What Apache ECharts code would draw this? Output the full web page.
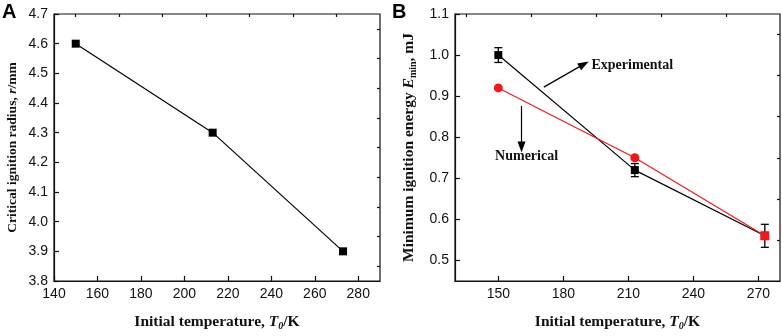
<!DOCTYPE html>
<html><head><meta charset="utf-8">
<script src="https://cdn.jsdelivr.net/npm/echarts@6/dist/echarts.min.js"></script>
<style>html,body{margin:0;padding:0;background:#fff}#c{width:782px;height:336px}</style>
</head><body><div id="c"></div>
<script>
// Panel A data
const tempA = [150, 213, 273];
const radiusA = [4.6, 4.3, 3.9];
// Panel B data
const tempB = [150, 213, 273];
const expEnergy = [1.0, 0.72, 0.56];
const expError = [0.018, 0.016, 0.028];
const numEnergy = [0.92, 0.75, 0.56];
// Ticks
const xTicksA = [140, 160, 180, 200, 220, 240, 260, 280];
const xMinorA = [150, 170, 190, 210, 230, 250, 270];
const yTicksA = [3.8, 3.9, 4.0, 4.1, 4.2, 4.3, 4.4, 4.5, 4.6, 4.7];
const yMinorA = [3.85, 3.95, 4.05, 4.15, 4.25, 4.35, 4.45, 4.55, 4.65];
const xTicksB = [150, 180, 210, 240, 270];
const xMinorB = [135, 165, 195, 225, 255];
const yTicksB = [0.5, 0.6, 0.7, 0.8, 0.9, 1.0, 1.1];
const yMinorB = [0.55, 0.65, 0.75, 0.85, 0.95, 1.05];
// Annotations (data coordinates of panel B)
const expArrow = [[171, 0.922], [189.5, 0.978]];
const numArrow = [[160.7, 0.876], [160.7, 0.776]];
const expLabelPos = [193, 0.976];
const numLabelPos = [148.5, 0.754];

const chart = echarts.init(document.getElementById('c'));
const tickFont = {fontFamily: 'Liberation Sans', fontSize: 14, color: '#111'};
function titleStyle(size) {
  return {fontFamily: 'Liberation Serif', fontWeight: 'bold', fontSize: size, color: '#111'};
}
function makeRich(size) {
  const s = Math.round(size * 0.62);
  const pad = Math.round(size * 0.55);
  return {
    i: {fontFamily: 'Liberation Serif', fontWeight: 'bold', fontStyle: 'italic', fontSize: size, color: '#111'},
    sub: {fontFamily: 'Liberation Serif', fontWeight: 'bold', fontStyle: 'italic', fontSize: s, color: '#111', verticalAlign: 'bottom', padding: [pad, 0, 0, 0]},
    subn: {fontFamily: 'Liberation Serif', fontWeight: 'bold', fontSize: s, color: '#111', verticalAlign: 'bottom', padding: [pad, 0, 0, 0]}
  };
}
const lineColor = '#111';

function majorAxis(opts) {
  return {
    type: 'value', gridIndex: opts.grid, min: opts.min, max: opts.max,
    axisLine: {show: true, onZero: false, lineStyle: {color: lineColor, width: 1.2}},
    axisTick: {show: true, inside: true, length: 5, customValues: opts.ticks, lineStyle: {color: lineColor, width: 1.2}},
    axisLabel: Object.assign({show: true, customValues: opts.ticks, margin: 6, formatter: opts.fmt}, tickFont),
    splitLine: {show: false},
    nameLocation: 'middle', nameGap: opts.nameGap, name: opts.name,
    nameTextStyle: Object.assign({rich: makeRich(opts.nameSize)}, titleStyle(opts.nameSize))
  };
}
function minorAxis(opts) {
  return {
    type: 'value', gridIndex: opts.grid, min: opts.min, max: opts.max,
    axisLine: {show: false, onZero: false},
    axisTick: {show: true, inside: true, length: 3, customValues: opts.ticks, lineStyle: {color: lineColor, width: 1.2}},
    axisLabel: {show: false},
    splitLine: {show: false}
  };
}
const f1 = v => v.toFixed(1);
const f0 = v => String(Math.round(v));

const errData = tempB.map((t, i) => [t, expEnergy[i], expError[i]]);

chart.setOption({
  animation: false,
  grid: [
    {left: 54, top: 14, width: 326, height: 268, show: true, borderColor: lineColor, borderWidth: 1.2, backgroundColor: 'transparent'},
    {left: 455, top: 14, width: 325, height: 268, show: true, borderColor: lineColor, borderWidth: 1.2, backgroundColor: 'transparent'}
  ],
  xAxis: [
    majorAxis({grid: 0, min: 140, max: 290, ticks: xTicksA, fmt: f0, nameGap: 31, nameSize: 15.5, name: 'Initial temperature, {i|T}{sub|0}/K'}),
    minorAxis({grid: 0, min: 140, max: 290, ticks: xMinorA}),
    majorAxis({grid: 1, min: 130, max: 280, ticks: xTicksB, fmt: f0, nameGap: 31, nameSize: 15.5, name: 'Initial temperature, {i|T}{sub|0}/K'}),
    minorAxis({grid: 1, min: 130, max: 280, ticks: xMinorB})
  ],
  yAxis: [
    majorAxis({grid: 0, min: 3.8, max: 4.7, ticks: yTicksA, fmt: f1, nameGap: 34, nameSize: 13.5, name: 'Critical ignition radius, {i|r}/mm'}),
    minorAxis({grid: 0, min: 3.8, max: 4.7, ticks: yMinorA}),
    majorAxis({grid: 1, min: 0.45, max: 1.1, ticks: yTicksB, fmt: f1, nameGap: 37, nameSize: 15.5, name: 'Minimum ignition energy {i|E}{subn|min}, mJ'}),
    minorAxis({grid: 1, min: 0.45, max: 1.1, ticks: yMinorB})
  ],
  series: [
    {
      type: 'line', xAxisIndex: 0, yAxisIndex: 0,
      data: tempA.map((t, i) => [t, radiusA[i]]),
      symbol: 'rect', symbolSize: 8, itemStyle: {color: '#000'},
      lineStyle: {color: '#000', width: 1.2}
    },
    {
      type: 'custom', xAxisIndex: 2, yAxisIndex: 2, z: 1,
      data: errData,
      renderItem: function (params, api) {
        const x = api.value(0), y = api.value(1), e = api.value(2);
        const top = api.coord([x, y + e]);
        const bot = api.coord([x, y - e]);
        const w = 4;
        const st = {stroke: '#000', lineWidth: 1.3};
        return {type: 'group', children: [
          {type: 'line', shape: {x1: top[0], y1: top[1], x2: bot[0], y2: bot[1]}, style: st},
          {type: 'line', shape: {x1: top[0] - w, y1: top[1], x2: top[0] + w, y2: top[1]}, style: st},
          {type: 'line', shape: {x1: bot[0] - w, y1: bot[1], x2: bot[0] + w, y2: bot[1]}, style: st}
        ]};
      }
    },
    {
      type: 'line', xAxisIndex: 2, yAxisIndex: 2, z: 2,
      data: tempB.map((t, i) => [t, expEnergy[i]]),
      symbol: 'rect', symbolSize: 8, itemStyle: {color: '#000'},
      lineStyle: {color: '#000', width: 1.2},
      markLine: {
        silent: true, symbol: ['none', 'triangle'], symbolSize: [8, 11],
        label: {show: false},
        emphasis: {disabled: true},
        lineStyle: {color: '#000', width: 1.2, type: 'solid'},
        itemStyle: {color: '#000'},
        data: [
          [{coord: expArrow[0]}, {coord: expArrow[1]}],
          [{coord: numArrow[0]}, {coord: numArrow[1]}]
        ]
      }
    },
    {
      type: 'line', xAxisIndex: 2, yAxisIndex: 2, z: 3,
      data: tempB.map((t, i) => (i === tempB.length - 1 ? {value: [t, numEnergy[i]], symbol: 'rect', symbolSize: 9} : [t, numEnergy[i]])),
      symbol: 'circle', symbolSize: 9, itemStyle: {color: '#f01818'},
      lineStyle: {color: '#f01818', width: 1.2}
    }
  ]
});

const pe = chart.convertToPixel({xAxisIndex: 2, yAxisIndex: 2}, expLabelPos);
const pn = chart.convertToPixel({xAxisIndex: 2, yAxisIndex: 2}, numLabelPos);
chart.setOption({
  graphic: [
    {type: 'text', left: 2, top: 2, style: {text: 'A', fontFamily: 'Liberation Sans', fontWeight: 'bold', fontSize: 20, fill: '#000'}},
    {type: 'text', left: 392, top: 2, style: {text: 'B', fontFamily: 'Liberation Sans', fontWeight: 'bold', fontSize: 20, fill: '#000'}},
    {type: 'text', x: pe[0], y: pe[1], style: {text: 'Experimental', fontFamily: 'Liberation Serif', fontWeight: 'bold', fontSize: 14, fill: '#111', verticalAlign: 'middle', align: 'left'}},
    {type: 'text', x: pn[0], y: pn[1], style: {text: 'Numerical', fontFamily: 'Liberation Serif', fontWeight: 'bold', fontSize: 14, fill: '#111', verticalAlign: 'middle', align: 'left'}}
  ]
});
</script>
</body></html>
